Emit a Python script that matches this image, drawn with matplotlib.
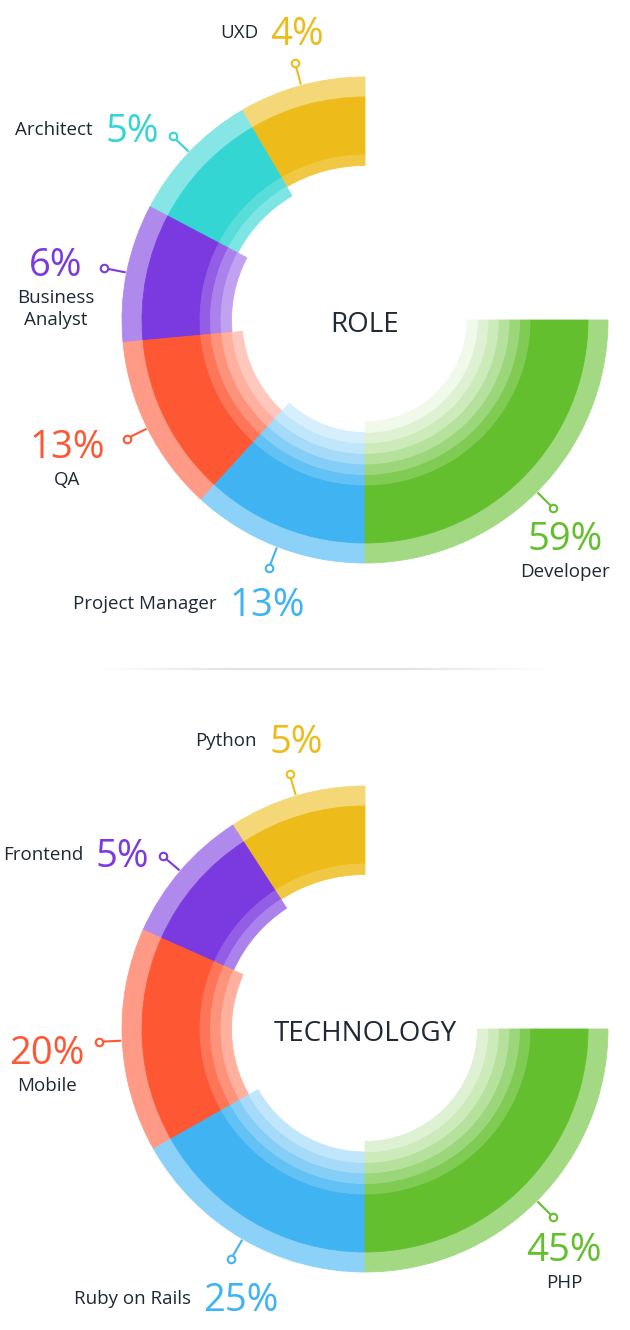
import numpy as np
import matplotlib
matplotlib.use("Agg")
import matplotlib.pyplot as plt
from matplotlib.colors import to_rgb
from matplotlib.collections import LineCollection

# ---------------- data ----------------
role_title = "ROLE"
role_labels = ["UXD", "Architect", "Business\nAnalyst", "QA", "Project Manager", "Developer"]
role_values = [4, 5, 6, 13, 13, 59]

tech_title = "TECHNOLOGY"
tech_labels = ["Python", "Frontend", "Mobile", "Ruby on Rails", "PHP"]
tech_values = [5, 5, 20, 25, 45]

# ---------------- style ----------------
YELLOW = "#EDBC1B"
TEAL = "#34D6D3"
PURPLE = "#7B3AE0"
ORANGE = "#FE5733"
BLUE = "#40B3F3"
GREEN = "#64BF2F"
role_colors = [YELLOW, TEAL, PURPLE, ORANGE, BLUE, GREEN]
tech_colors = [YELLOW, PURPLE, ORANGE, BLUE, GREEN]
TEXT = "#1E2935"
FONT = ["Open Sans", "DejaVu Sans"]

W, H, DPI = 630, 1330, 100
R_IN, R_MID, R_OUT = 165, 223, 243
RING_W = 10.5
RING_ALPHA = [0.82, 0.64, 0.47, 0.33, 0.21, 0.10]
OUTER_ALPHA = 0.6
R_DOT = 266
MIN_SHARE = 19
PCT_SIZE = 27.5
LAB_SIZE = 13.5
TITLE_SIZE = 20

# layout of the annotations (pixel positions, y from top)
role_layout = {
    "UXD": ("row", 264, 31),
    "Architect": ("row", 99, 128),
    "Business\nAnalyst": ("stack", 56, 262),
    "QA": ("stack", 67, 444),
    "Project Manager": ("row", 223, 602),
    "Developer": ("stack", 565, 536),
}
tech_layout = {
    "Python": ("row", 263, 739),
    "Frontend": ("row", 89, 853),
    "Mobile": ("stack", 47, 1050),
    "Ruby on Rails": ("row", 197, 1297),
    "PHP": ("stack", 564, 1247),
}


def tint(c, a):
    r = np.array(to_rgb(c))
    return tuple(a * r + (1 - a))


def spans(values):
    v = np.asarray(values, float)
    rest = v[:-1] + MIN_SHARE
    rest_deg = 180.0 * rest / rest.sum()
    return np.append(rest_deg, 90.0)


fig = plt.figure(figsize=(W / DPI, H / DPI), dpi=DPI)
fig.patch.set_facecolor("white")

overlay = fig.add_axes([0, 0, 1, 1], zorder=10)
overlay.set_xlim(0, W)
overlay.set_ylim(H, 0)
overlay.set_axis_off()
overlay.patch.set_alpha(0)


def text_c(x, yc, s, size, color, ha):
    cap = 0.714 * size * DPI / 72.0
    overlay.text(x, yc + cap / 2.0, s, fontsize=size, color=color, ha=ha,
                 va="baseline", family=FONT)


def draw_chart(cx, cy, title, labels, values, colors, layout):
    ax = fig.add_axes([(cx - 300) / W, (H - cy - 300) / H, 600 / W, 600 / H],
                      projection="polar")
    ax.set_axis_off()
    sp = spans(values)
    starts = 90.0 + np.concatenate([[0.0], np.cumsum(sp)[:-1]])
    for i, (lab, val, col) in enumerate(zip(labels, values, colors)):
        th0 = np.deg2rad(starts[i])
        w = np.deg2rad(sp[i])
        thc = th0 + w / 2
        kw = dict(align="edge", linewidth=0.6)
        # outer light band
        oc = tint(col, OUTER_ALPHA)
        ax.bar(th0, R_OUT - R_MID, width=w, bottom=R_MID, color=oc, edgecolor=oc, **kw)
        # solid band
        ax.bar(th0, R_MID - R_IN, width=w, bottom=R_IN, color=col, edgecolor=col, **kw)
        # inner fading rings
        for k in range(i + 1):
            rc = tint(col, RING_ALPHA[k])
            ax.bar(th0, RING_W, width=w, bottom=R_IN - (k + 1) * RING_W,
                   color=rc, edgecolor=rc, **kw)
        # connector + marker
        ax.plot([thc, thc], [R_OUT + 1, R_DOT - 4], color=col, lw=1.5,
                solid_capstyle="butt")
        ax.plot([thc], [R_DOT], marker="o", ms=5.4, mfc="white", mec=col, mew=1.5)

        mode, x, y = layout[lab]
        pct = f"{val}%"
        if mode == "row":
            text_c(x - 6, y, lab, LAB_SIZE, TEXT, "right")
            text_c(x + 6, y, pct, PCT_SIZE, col, "left")
        else:
            text_c(x, y, pct, PCT_SIZE, col, "center")
            for j, line in enumerate(lab.split("\n")):
                text_c(x, y + 34 + 22 * j, line, LAB_SIZE, TEXT, "center")
    ax.set_ylim(0, 300)
    text_c(cx, cy + 2.5, title, TITLE_SIZE, TEXT, "center")


draw_chart(365, 320, role_title, role_labels, role_values, role_colors, role_layout)
draw_chart(365, 1029, tech_title, tech_labels, tech_values, tech_colors, tech_layout)

# faint separator between the charts
xs = np.linspace(100, 545, 120)
prof = np.clip(np.minimum((xs - 100) / 130.0, (545 - xs) / 140.0), 0, 1)
segs = [[(xs[i], 669), (xs[i + 1], 669)] for i in range(len(xs) - 1)]
cols = [(0.89, 0.89, 0.89, float(prof[i])) for i in range(len(xs) - 1)]
overlay.add_collection(LineCollection(segs, colors=cols, linewidths=1.6))

fig.savefig("out.png", dpi=DPI, facecolor="white")
